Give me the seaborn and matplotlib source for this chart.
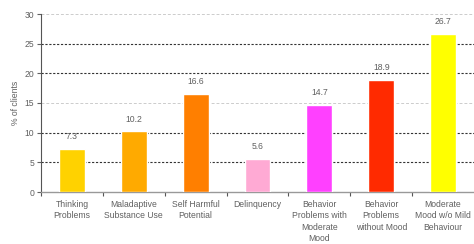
import matplotlib
matplotlib.use("Agg")
import matplotlib.pyplot as plt
import seaborn as sns
import pandas as pd

categories = ["Thinking\nProblems", "Maladaptive\nSubstance Use", "Self Harmful\nPotential",
              "Delinquency", "Behavior\nProblems with\nModerate\nMood",
              "Behavior\nProblems\nwithout Mood", "Moderate\nMood w/o Mild\nBehaviour"]
values = [7.3, 10.2, 16.6, 5.6, 14.7, 18.9, 26.7]
colors = ["#FFD200", "#FFAA00", "#FF7F00", "#FFAAD4", "#FF40FF", "#FF2A00", "#FFFF00"]
yticks = [0, 5, 10, 15, 20, 25, 30]

sns.set_style("white")
plt.rcParams['font.family'] = ['Liberation Sans', 'DejaVu Sans']

df = pd.DataFrame({"cat": categories, "val": values})
fig = plt.figure(figsize=(4.74, 2.44), dpi=100)
ax = fig.add_axes([41/474, 52/244, 1 - 41/474, (192-14)/244])

sns.barplot(data=df, x="cat", y="val", hue="cat", palette=colors, legend=False,
            width=0.42, ax=ax, saturation=1, zorder=3)

ax.set_xlim(-0.5, 6.5)
ax.set_ylim(0, 30)
ax.set_yticks(yticks)
txtc = "#606060"
fs = 6.2
for y in yticks[1:]:
    if y in (15, 30):
        ax.axhline(y, color="#cccccc", lw=0.7, ls=(0, (3, 2)), zorder=1)
    else:
        ax.axhline(y, color="#333333", lw=0.8, ls=(0, (2, 1.5)), zorder=1)

for i, v in enumerate(values):
    ax.annotate(f"{v:.1f}", (i, v), xytext=(0, 5.5), textcoords="offset points",
                ha="center", va="bottom", fontsize=fs, color=txtc)

ax.set_xlabel("")
ax.set_ylabel("% of clients", fontsize=fs, color=txtc, labelpad=3)
ax.set_xticks(range(len(categories)))
ax.set_xticklabels(categories, fontsize=fs, color=txtc, linespacing=1.3)
ax.tick_params(axis="x", length=0, pad=6)
ax.tick_params(axis="y", labelsize=fs, colors=txtc, length=3, width=0.8, direction="out", left=True, pad=2)
ax.set_xticks([i + 0.5 for i in range(-1, 6)], minor=True)
ax.tick_params(axis="x", which="minor", length=3, width=0.8, color="#555555", direction="out", bottom=True)

for s in ["top", "right"]:
    ax.spines[s].set_visible(False)
ax.spines["left"].set_color("#555555")
ax.spines["left"].set_linewidth(0.8)
ax.spines["bottom"].set_color("#999999")
ax.spines["bottom"].set_linewidth(1.0)

fig.savefig("out.png", dpi=100)
